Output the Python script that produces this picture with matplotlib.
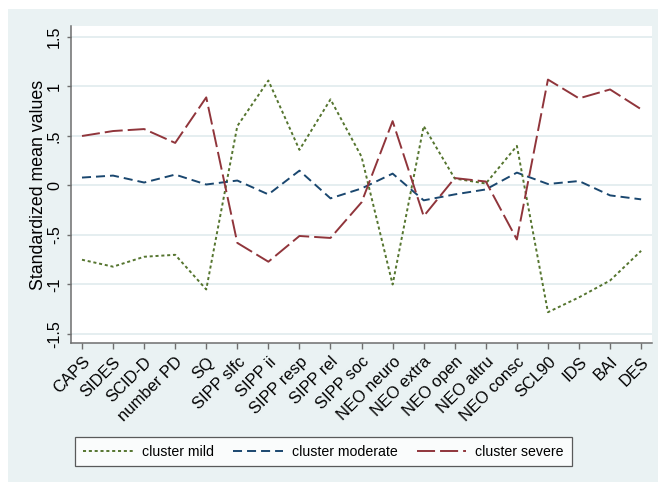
import matplotlib
matplotlib.use("Agg")
import matplotlib.pyplot as plt
from matplotlib.patches import Rectangle

plt.rcParams["font.family"] = ["Liberation Sans", "DejaVu Sans"]
plt.rcParams["lines.scale_dashes"] = False

# Measures on the horizontal axis
measures = ["CAPS", "SIDES", "SCID-D", "number PD", "SQ", "SIPP slfc", "SIPP ii",
            "SIPP resp", "SIPP rel", "SIPP soc", "NEO neuro", "NEO extra",
            "NEO open", "NEO altru", "NEO consc", "SCL90", "IDS", "BAI", "DES"]

# Standardized mean values per cluster
mild = [-0.75, -0.82, -0.72, -0.70, -1.05, 0.60, 1.06, 0.36, 0.87, 0.29,
        -1.00, 0.60, 0.07, 0.02, 0.40, -1.28, -1.13, -0.96, -0.66]
moderate = [0.08, 0.10, 0.03, 0.11, 0.01, 0.05, -0.09, 0.15, -0.13, -0.03,
            0.12, -0.15, -0.09, -0.04, 0.13, 0.015, 0.045, -0.10, -0.14]
severe = [0.50, 0.55, 0.57, 0.43, 0.89, -0.58, -0.77, -0.51, -0.53, -0.17,
          0.65, -0.31, 0.075, 0.04, -0.545, 1.07, 0.88, 0.97, 0.77]

y_ticks = [-1.5, -1, -0.5, 0, 0.5, 1, 1.5]
y_tick_labels = ["-1.5", "-1", "-.5", "0", ".5", "1", "1.5"]

W, H = 658, 482
fig = plt.figure(figsize=(W / 100, H / 100), dpi=100, facecolor="white")
fig.add_artist(Rectangle((8 / W, 0), 1 - 8 / W, 1 - 9 / H, transform=fig.transFigure,
                         facecolor="#EAF2F3", edgecolor="none", zorder=-10))

ax = fig.add_axes([71 / W, 1 - 343 / H, (652 - 71) / W, (343 - 26) / H])
ax.set_facecolor("white")

x = list(range(len(measures)))
ax.plot(x, mild, color="#55752F", lw=1.4, dashes=(2.2, 2.0), label="cluster mild")
ax.plot(x, moderate, color="#1A476F", lw=1.4, dashes=(6.5, 3.6), label="cluster moderate")
ax.plot(x, severe, color="#90353B", lw=1.4, dashes=(13, 3.6), label="cluster severe")

ax.set_xlim(-0.354, 18.35)
ax.set_ylim(-1.591, 1.611)

ax.set_yticks(y_ticks)
ax.set_yticklabels(y_tick_labels, rotation=90, va="center", fontsize=11.6)
ax.set_xticks(x)
ax.set_xticklabels(measures, rotation=45, ha="right", va="top",
                   rotation_mode="anchor", fontsize=11.9)

ax.grid(axis="y", color="#E3EDEF", lw=1.3)
ax.set_axisbelow(True)
for side in ("top", "right"):
    ax.spines[side].set_visible(False)
for side in ("left", "bottom"):
    ax.spines[side].set_color("#6E6E6E")
    ax.spines[side].set_linewidth(1.1)
ax.tick_params(axis="y", length=3, width=1, color="#6E6E6E", pad=3.5)
ax.tick_params(axis="x", length=4, width=1, color="#6E6E6E", pad=4)

ax.set_ylabel("Standardized mean values", fontsize=12.8)
ax.yaxis.set_label_coords(-0.042, 0.5)

leg = fig.legend(loc="center", bbox_to_anchor=(323.5 / W, 1 - 451.5 / H), ncol=3,
                 frameon=True, fancybox=False, fontsize=10.2, handlelength=3.5,
                 columnspacing=1.35, handletextpad=0.65, borderpad=0.55,
                 borderaxespad=0)
leg.get_frame().set_edgecolor("#333333")
leg.get_frame().set_linewidth(0.9)
leg.get_frame().set_facecolor("white")

fig.savefig("out.png", dpi=100, facecolor="white")
